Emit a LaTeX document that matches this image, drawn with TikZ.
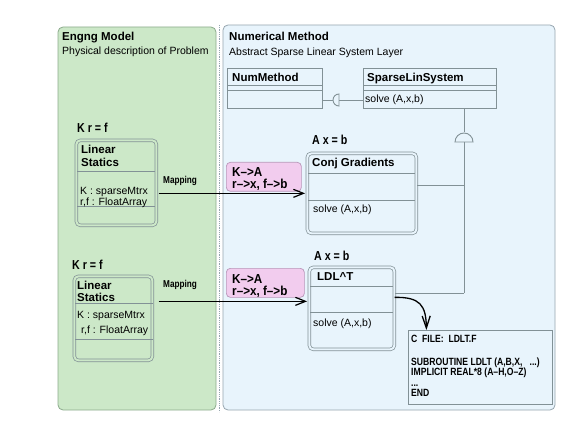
\documentclass[tikz,border=0pt]{standalone}
\usepackage{fontspec}
\setmainfont{Liberation Sans}
\newfontfamily\condfont[FakeStretch=0.82]{Liberation Sans}
\newfontfamily\mapfont[FakeStretch=0.9]{Liberation Sans}
\usetikzlibrary{arrows.meta}
\definecolor{greenbg}{RGB}{204,232,200}
\definecolor{greenline}{RGB}{140,170,140}
\definecolor{bluebg}{RGB}{232,244,252}
\definecolor{blueline}{RGB}{150,165,175}
\definecolor{boxline}{RGB}{130,145,150}
\definecolor{pinkbg}{RGB}{242,204,238}
\definecolor{pinkline}{RGB}{185,150,185}
\begin{document}
\begin{tikzpicture}[x=1pt, y=-1pt,
    title/.style={inner sep=0, anchor=base west, font=\fontsize{11.5}{13}\selectfont\bfseries},
    txt/.style={inner sep=0, anchor=base west, font=\fontsize{10.5}{11}\selectfont},
    eqn/.style={inner sep=0, anchor=base west, font=\condfont\fontsize{13}{14}\selectfont\bfseries},
    maptxt/.style={inner sep=0, anchor=base west, font=\mapfont\fontsize{13}{14}\selectfont\bfseries},
    classbox/.style={draw=boxline, line width=0.8pt, inner sep=0, anchor=north west},
    dblbox/.style={draw=boxline, line width=0.7pt, double=#1, double distance=2pt,
      rounded corners=4pt, inner sep=0, anchor=north west},
    mapbox/.style={draw=pinkline, fill=pinkbg, line width=0.7pt, rounded corners=4pt,
      inner sep=0, anchor=north west},
    sep/.style={draw=boxline, line width=0.7pt},
    link/.style={draw=boxline, line width=0.9pt},
    maparrow/.style={line width=1.2pt, -{Straight Barb[length=10pt,width=8pt]}}]
  \useasboundingbox (0,0) rectangle (577,446);

  % panels
  \draw[greenline, fill=greenbg, rounded corners=5pt, line width=0.8pt] (58,27) rectangle (216,410);
  \draw[blueline, fill=bluebg, rounded corners=5pt, line width=0.8pt] (223,25) rectangle (555,410);
  \draw[blueline, densely dotted, line width=0.8pt] (219,25) -- (219,412);
  \node[title] (engtitle) at (62,41) {Engng Model};
  \node[txt] (engsub) at (62,55) {Physical description of Problem};
  \node[title] (numtitle) at (229,41) {Numerical Method};
  \node[txt] (numsub) at (229,56) {Abstract Sparse Linear System Layer};

  % abstract layer
  \node[classbox, minimum width=95pt, minimum height=40pt] (numm) at (227,68) {};
  \draw[sep] (227,85) -- (322,85) (227,90) -- (322,90);
  \node[title] (nummname) at (232,82) {NumMethod};
  \node[classbox, minimum width=133pt, minimum height=40pt] (sls) at (363,68) {};
  \draw[sep] (363,85) -- (496,85) (363,90) -- (496,90);
  \node[title] (slsname) at (367,82) {SparseLinSystem};
  \node[txt] (slssolve) at (365,103) {solve (A,x,b)};

  \coordinate (sock) at (339,100);
  \draw[link] (numm.east |- sock) -- ([xshift=-6pt]sock);
  \draw[link] ([yshift=6pt]sock) arc[start angle=90, end angle=270, radius=6pt] -- cycle;
  \draw[link] (sock) -- (sock -| sls.west);

  \coordinate (dome) at (464,142);
  \coordinate (j1) at (464,185);
  \coordinate (j2) at (464,293);
  \draw[link] (sls.south -| dome) -- ([yshift=10pt]dome);
  \draw[link] ([xshift=-9pt]dome) arc[start angle=180, end angle=0, radius=9pt] -- cycle;
  \draw[link] (dome) -- (j2);

  % engineering models
  \node[eqn] (eq1) at (77,133) {K r = f};
  \node[dblbox=greenbg, minimum width=80pt, minimum height=85pt] (ls1) at (76,140) {};
  \draw[sep] (77,171) -- (155,171) (77,206) -- (155,206);
  \node[title] (ls1a) at (81,154) {Linear};
  \node[title] (ls1b) at (81,167) {Statics};
  \node[txt] (ls1c) at (80,194) {K : sparseMtrx};
  \node[txt] (ls1d) at (80,205) {r,f : FloatArray};

  \node[eqn] (eq2) at (72,269) {K r = f};
  \node[dblbox=greenbg, minimum width=78pt, minimum height=84pt] (ls2) at (74,276) {};
  \draw[sep] (75,303) -- (153,303) (75,339) -- (153,339);
  \node[title] (ls2a) at (77,289) {Linear};
  \node[title] (ls2b) at (77,301) {Statics};
  \node[txt] (ls2c) at (77,318) {K : sparseMtrx};
  \node[txt] (ls2d) at (81,333) {r,f : FloatArray};

  % solvers
  \node[eqn] (eq3) at (312,145) {A x = b};
  \node[dblbox=bluebg, minimum width=109pt, minimum height=80pt] (cg) at (307,153) {};
  \draw[sep] (308,173) -- (415,173) (308,200) -- (415,200);
  \node[title] (cgname) at (312,167) {Conj Gradients};
  \node[txt] (cgsolve) at (313,212) {solve (A,x,b)};

  \node[eqn] (eq4) at (314,260) {A x = b};
  \node[dblbox=bluebg, minimum width=85pt, minimum height=82pt] (ldl) at (309,267) {};
  \draw[sep] (310,286) -- (393,286) (310,312) -- (393,312);
  \node[title] (ldlname) at (317,280) {LDL\textasciicircum T};
  \node[txt] (ldlsolve) at (313,326) {solve (A,x,b)};

  \draw[link] (j1) -- (j1 -| cg.east);
  \draw[link] (j2) -- (j2 -| ldl.east);

  % mappings
  \node[mapbox, minimum width=75pt, minimum height=29pt] (map1) at (226,162) {};
  \node[maptxt] (map1a) at (232,177) {K–>A};
  \node[maptxt] (map1b) at (232,189) {r–>x, f–>b};
  \node[mapbox, minimum width=78pt, minimum height=29pt] (map2) at (226,268) {};
  \node[maptxt] (map2a) at (232,283) {K–>A};
  \node[maptxt] (map2b) at (232,295) {r–>x, f–>b};
  \node[maptxt, font=\condfont\fontsize{10}{11}\selectfont\bfseries] (lab1) at (163,183) {Mapping};
  \node[maptxt, font=\condfont\fontsize{10}{11}\selectfont\bfseries] (lab2) at (163,287) {Mapping};

  \draw[maparrow] ([xshift=2pt]ls1.east |- cg.west) -- ([xshift=-2pt]cg.west);
  \coordinate (l2in) at ([yshift=7pt]ldl.west);
  \draw[maparrow] ([xshift=6pt]ls2.east |- l2in) -- ([xshift=-2pt]l2in);

  % fortran source
  \node[classbox, minimum width=144pt, minimum height=74pt] (code) at (408,330) {};
  \node[inner sep=0, anchor=north west, align=left,
    font=\condfont\fontsize{10.5}{10.6}\selectfont\bfseries] (codetxt) at (411,335)
    {C\ \ FILE:\ \ LDLT.F\\[12pt]
     SUBROUTINE LDLT (A,B,X,\ \ \ ...)\\
     IMPLICIT REAL*8 (A–H,O–Z)\\
     ...\\
     END};
  \draw[line width=1.3pt, -{Straight Barb[length=12pt,width=8pt]}]
    ([yshift=11pt]ldl.east) .. controls (420,297) and (426,305) .. ([xshift=-54pt]code.north);
\end{tikzpicture}
\end{document}
